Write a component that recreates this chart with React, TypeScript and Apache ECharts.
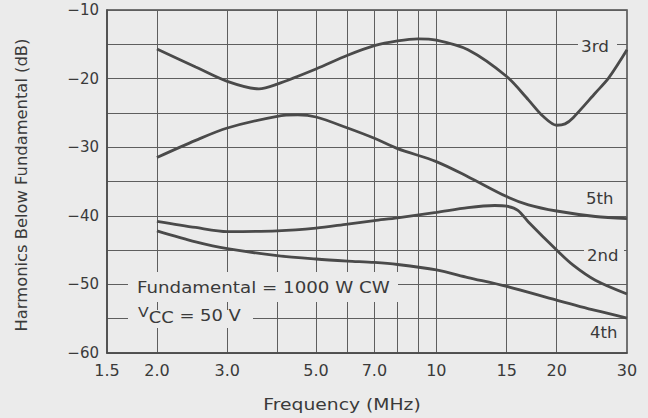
import React, { useEffect, useRef } from 'react';
import * as echarts from 'echarts';

// Grid (vertical lines) and tick label frequencies, MHz
const gridFreqs = [2, 3, 4, 5, 6, 7, 8, 9, 10, 15, 20];
const labelFreqs = [1.5, 2, 3, 5, 7, 10, 15, 20, 30];
const labelTexts = ['1.5', '2.0', '3.0', '5.0', '7.0', '10', '15', '20', '30'];

// 3rd harmonic
const freq3rd = [2, 2.5, 3, 3.6, 4, 5, 6, 7, 8, 9, 10, 12, 15, 17, 18.5, 20, 21, 22, 25, 27, 30];
const db3rd = [-15.7, -18.3, -20.4, -21.5, -20.8, -18.6, -16.6, -15.2, -14.5, -14.2, -14.4, -15.8, -19.7, -23.1, -25.5, -26.8, -26.6, -25.7, -22.1, -19.9, -15.8];

// 5th harmonic
const freq5th = [2, 2.5, 3, 4, 4.5, 5, 6, 7, 8, 10, 12, 15, 17, 20, 25, 30];
const db5th = [-31.5, -29.0, -27.2, -25.5, -25.3, -25.6, -27.2, -28.7, -30.2, -32.1, -34.3, -37.2, -38.4, -39.3, -40.1, -40.4];

// 2nd harmonic
const freq2nd = [2, 2.5, 3, 4, 5, 6, 7, 8, 10, 12, 14, 15, 16, 17, 20, 22, 25, 30];
const db2nd = [-40.8, -41.7, -42.3, -42.2, -41.8, -41.2, -40.7, -40.3, -39.5, -38.8, -38.5, -38.6, -39.2, -40.9, -45.0, -47.2, -49.4, -51.4];

// 4th harmonic
const freq4th = [2, 2.5, 3, 4, 5, 6, 7, 8, 10, 12, 15, 20, 25, 30];
const db4th = [-42.2, -43.8, -44.8, -45.8, -46.3, -46.6, -46.8, -47.1, -47.9, -49.0, -50.3, -52.3, -53.8, -54.9];

const BG = '#ebebeb';
const INK = '#3a3a3a';
const LINE = '#4a4a4a';
const GRID = '#5e5e5e';
const FONT = '"DejaVu Sans", sans-serif';

export default function App() {
  const ref = useRef<HTMLDivElement>(null);
  useEffect(() => {
    document.body.style.margin = '0';
    document.body.style.background = BG;
    const chart = echarts.init(ref.current!, null, { renderer: 'svg' });
    const lg = (f: number) => Math.log10(f);
    const mk = (fs: number[], ds: number[]) => fs.map((f, i) => [lg(f), ds[i]]);
    const seriesDefs = [
      { name: '3rd', data: mk(freq3rd, db3rd) },
      { name: '5th', data: mk(freq5th, db5th) },
      { name: '2nd', data: mk(freq2nd, db2nd) },
      { name: '4th', data: mk(freq4th, db4th) },
    ];
    const bgRect = (x: number, y: number, w: number, h: number) => ({
      type: 'rect', shape: { x, y, width: w, height: h }, style: { fill: BG }, z: 50, silent: true,
    });
    const txt = (text: string, x: number, y: number, size: number, sx = 1) => ({
      type: 'text', x, y, z: 60, silent: true, scaleX: sx,
      style: { text, fill: INK, fontSize: size, fontFamily: FONT, verticalAlign: 'middle', align: 'left' },
    });
    const option: any = {
      animation: false,
      backgroundColor: BG,
      grid: { left: 107, top: 10, right: 21, bottom: 65, show: true, borderColor: '#4a4a4a', borderWidth: 1.5, backgroundColor: 'transparent' },
      xAxis: {
        type: 'value',
        min: lg(1.5),
        max: lg(30),
        axisLine: { show: true, lineStyle: { color: '#4a4a4a', width: 1.5 } },
        axisTick: { show: false, customValues: gridFreqs.map(lg) },
        splitLine: { show: true, lineStyle: { color: GRID, width: 1 } },
        axisLabel: {
          customValues: labelFreqs.map(lg),
          color: INK, fontSize: 16, fontFamily: FONT, margin: 9,
          formatter: (v: number) => {
            const i = labelFreqs.findIndex((f) => Math.abs(lg(f) - v) < 1e-6);
            return i >= 0 ? labelTexts[i] : '';
          },
        },
      },
      yAxis: {
        type: 'value',
        min: -60,
        max: -10,
        interval: 5,
        axisLine: { show: true, lineStyle: { color: '#4a4a4a', width: 1.5 } },
        axisTick: { show: false },
        splitLine: { show: true, lineStyle: { color: GRID, width: 1 } },
        axisLabel: {
          color: INK, fontSize: 15, fontFamily: FONT, margin: 8,
          formatter: (v: number) => (Math.round(v) % 10 === 0 ? '\u2212' + Math.abs(Math.round(v)) : ''),
        },
      },
      series: seriesDefs.map((s) => ({
        type: 'line', name: s.name, data: s.data, symbol: 'none', smooth: 0.3,
        lineStyle: { color: LINE, width: 2.8 }, z: 3,
      })),
      graphic: [
        bgRect(578, 38, 39, 18),
        bgRect(584, 247, 40, 18),
        bgRect(128, 272, 270, 30),
        bgRect(128, 310, 125, 18),
        txt('3rd', 581, 47, 15, 1.12),
        txt('5th', 586, 199, 15, 1.1),
        txt('2nd', 587, 256, 15, 1.1),
        txt('4th', 590, 333, 15, 1.1),
        txt('Fundamental = 1000 W CW', 137, 287, 16, 1.14),
        {
          type: 'text', x: 138, y: 315, z: 60, silent: true, scaleX: 1.12,
          style: {
            text: '{v|V}{c|CC}{r| = 50 V}', fill: INK, fontFamily: FONT, verticalAlign: 'middle', align: 'left',
            rich: {
              v: { fontSize: 14, fontFamily: FONT, fill: INK, verticalAlign: 'top', lineHeight: 20 },
              c: { fontSize: 16, fontFamily: FONT, fill: INK, verticalAlign: 'bottom', lineHeight: 20 },
              r: { fontSize: 16, fontFamily: FONT, fill: INK, verticalAlign: 'middle', lineHeight: 20 },
            },
          },
        },
        {
          type: 'text', x: 342, y: 405, z: 60, silent: true, scaleX: 1.25,
          style: { text: 'Frequency (MHz)', fill: INK, fontSize: 15, fontFamily: FONT, align: 'center', verticalAlign: 'middle' },
        },
        {
          type: 'text', x: 22, y: 185, z: 60, silent: true, rotation: Math.PI / 2, scaleX: 1.09,
          style: { text: 'Harmonics Below Fundamental (dB)', fill: INK, fontSize: 15, fontFamily: FONT, align: 'center', verticalAlign: 'middle' },
        },
      ],
    };
    chart.setOption(option);
    return () => chart.dispose();
  }, []);
  return <div ref={ref} style={{ width: 648, height: 418, background: BG }} />;
}
